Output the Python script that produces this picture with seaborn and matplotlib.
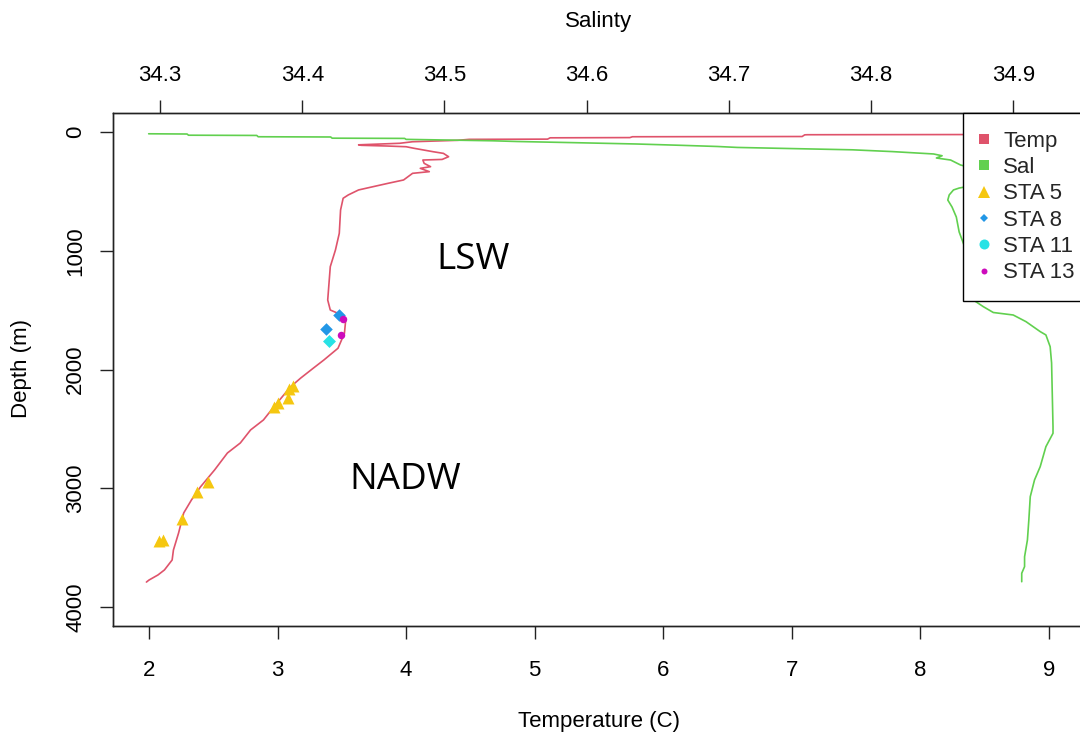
import matplotlib
matplotlib.use("Agg")
import matplotlib.pyplot as plt
from matplotlib.lines import Line2D
import seaborn as sns

# ---- CTD profile: temperature (deg C) against depth (m) ----
temp_depth = [20, 23, 24, 38, 40, 47, 49, 60, 62, 70, 82, 95, 108, 112, 118, 124,
              137, 166, 180, 208, 231, 236, 264, 292, 306, 334, 348, 404, 432, 466,
              488, 530, 558, 657, 853, 994, 1134, 1274, 1415, 1499, 1527, 1583,
              1695, 1821, 1920, 1987, 2072, 2147, 2316, 2425, 2509, 2619, 2703,
              2846, 2989, 3099, 3208, 3377, 3520, 3604, 3688, 3730, 3773, 3790]
temp_vals = [9.60, 7.12, 7.10, 7.08, 5.76, 5.74, 5.12, 5.10, 4.49, 4.40, 4.05, 3.95,
             3.63, 3.65, 3.85, 4.00, 4.06, 4.21, 4.29, 4.33, 4.28, 4.13, 4.14, 4.19,
             4.11, 4.18, 4.05, 3.98, 3.86, 3.72, 3.63, 3.55, 3.51, 3.49, 3.48, 3.45,
             3.41, 3.40, 3.39, 3.41, 3.47, 3.53, 3.52, 3.47, 3.36, 3.28, 3.18, 3.10,
             2.97, 2.89, 2.79, 2.71, 2.61, 2.51, 2.40, 2.33, 2.27, 2.23, 2.19, 2.18,
             2.12, 2.07, 2.00, 1.98]

# ---- CTD profile: salinity against depth (m) ----
sal_depth = [15, 17, 27, 29, 40, 42, 52, 54, 62, 74, 80, 90, 101, 112, 122, 130,
             140, 150, 165, 185, 200, 219, 236, 278, 330, 420, 472, 488, 530, 573,
             632, 716, 842, 1100, 1300, 1415, 1471, 1520, 1541, 1597, 1681, 1709,
             1808, 1945, 2481, 2537, 2650, 2818, 2930, 3071, 3267, 3436, 3577, 3660,
             3716, 3787]
sal_vals = [34.292, 34.319, 34.320, 34.368, 34.369, 34.420, 34.421, 34.472, 34.473,
            34.534, 34.551, 34.592, 34.635, 34.666, 34.692, 34.706, 34.746, 34.787,
            34.815, 34.844, 34.850, 34.846, 34.856, 34.863, 34.880, 34.885, 34.862,
            34.858, 34.855, 34.854, 34.857, 34.860, 34.862, 34.870, 34.868, 34.872,
            34.879, 34.886, 34.900, 34.909, 34.919, 34.923, 34.926, 34.927, 34.928,
            34.928, 34.923, 34.919, 34.915, 34.912, 34.911, 34.910, 34.908, 34.908,
            34.906, 34.906]

# ---- bottle samples at the stations (temperature, depth) ----
sta5_temp = [3.12, 3.09, 3.08, 3.00, 2.97, 2.46, 2.37, 2.26, 2.08, 2.11]
sta5_depth = [2140, 2165, 2243, 2286, 2314, 2945, 3029, 3263, 3440, 3436]
sta8_temp = [3.48, 3.38]
sta8_depth = [1541, 1662]
sta11_temp = [3.40]
sta11_depth = [1757]
sta13_temp = [3.51, 3.49]
sta13_depth = [1577, 1709]

# water masses
mass_names = ["LSW", "NADW"]
mass_temp = [4.52, 3.99]
mass_depth = [1080, 2930]

temp_ticks = [2, 3, 4, 5, 6, 7, 8, 9]
sal_ticks = [34.3, 34.4, 34.5, 34.6, 34.7, 34.8, 34.9]
depth_ticks = [0, 1000, 2000, 3000, 4000]

C_TEMP = "#DF536B"
C_SAL = "#61D04F"
C_STA5 = "#F5C710"
C_STA8 = "#2297E6"
C_STA11 = "#28E2E5"
C_STA13 = "#CD0BBC"

sns.set_theme(style="white")
plt.rcParams["font.family"] = ["Liberation Sans", "DejaVu Sans"]
plt.rcParams["axes.edgecolor"] = "#222222"
plt.rcParams["axes.linewidth"] = 1.0

FS = 16
fig = plt.figure(figsize=(10.8, 7.38), dpi=100)
ax = fig.add_axes([113 / 1080, 112 / 738, 972 / 1080, 513 / 738])

sns.lineplot(x=temp_vals, y=temp_depth, sort=False, estimator=None,
             color=C_TEMP, lw=1.2, ax=ax)
sns.scatterplot(x=sta5_temp, y=sta5_depth, marker="^", s=8.6 ** 2,
                color=C_STA5, edgecolor=C_STA5, linewidth=0, ax=ax, zorder=4)
sns.scatterplot(x=sta8_temp, y=sta8_depth, marker="D", s=6.4 ** 2,
                color=C_STA8, edgecolor=C_STA8, linewidth=0, ax=ax, zorder=4)
sns.scatterplot(x=sta11_temp, y=sta11_depth, marker="D", s=6.6 ** 2,
                color=C_STA11, edgecolor=C_STA11, linewidth=0, ax=ax, zorder=4)
sns.scatterplot(x=sta13_temp, y=sta13_depth, marker="o", s=5.4 ** 2,
                color=C_STA13, edgecolor=C_STA13, linewidth=0, ax=ax, zorder=5)

for name, t, d in zip(mass_names, mass_temp, mass_depth):
    ax.text(t, d, name, ha="center", va="center", fontsize=26.5,
            family=["Open Sans", "DejaVu Sans"], color="black")

ax.set_xlim(1.72, 9.28)
ax.set_ylim(4160, -160)
ax.set_xticks(temp_ticks)
ax.set_xticklabels([str(t) for t in temp_ticks])
ax.set_yticks(depth_ticks)
ax.set_yticklabels([str(d) for d in depth_ticks], rotation=90, va="center")
ax.tick_params(axis="both", which="major", direction="out", length=9.4,
               width=1.0, color="#222222", labelsize=FS, labelcolor="black",
               bottom=True, left=True, top=False, right=False)
ax.tick_params(axis="x", pad=15)
ax.tick_params(axis="y", pad=10)
ax.set_xlabel("Temperature (C)", fontsize=FS, color="black")
ax.xaxis.set_label_coords(0.5, (626 - 722) / 513)
ax.xaxis.label.set_va("center")
ax.set_ylabel("Depth (m)", fontsize=FS, color="black")
ax.yaxis.set_label_coords((22 - 113) / 972, 0.501)
ax.yaxis.label.set_va("center")

ax2 = ax.twiny()
sns.lineplot(x=sal_vals, y=sal_depth, sort=False, estimator=None,
             color=C_SAL, lw=1.2, ax=ax2)
ax2.set_xlim(34.2669, 34.9505)
ax2.set_xticks(sal_ticks)
ax2.set_xticklabels([f"{s:.1f}" for s in sal_ticks])
ax2.tick_params(axis="x", direction="out", length=9.4, width=1.0,
                color="#222222", labelsize=FS, labelcolor="black", pad=10,
                top=True, bottom=False, labeltop=True, labelbottom=False)
ax2.set_xlabel("Salinty", fontsize=FS, color="black")
ax2.xaxis.set_label_coords(0.5, (626 - 21) / 513)
ax2.xaxis.label.set_va("center")
ax2.set_ylabel("")

handles = [
    Line2D([], [], ls="none", marker="s", ms=7.2, color=C_TEMP, mew=0),
    Line2D([], [], ls="none", marker="s", ms=7.2, color=C_SAL, mew=0),
    Line2D([], [], ls="none", marker="^", ms=8.6, color=C_STA5, mew=0),
    Line2D([], [], ls="none", marker="D", ms=3.8, color=C_STA8, mew=0),
    Line2D([], [], ls="none", marker="o", ms=7.2, color=C_STA11, mew=0),
    Line2D([], [], ls="none", marker="o", ms=4.3, color=C_STA13, mew=0),
]
labels = ["Temp", "Sal", "STA 5", "STA 8", "STA 11", "STA 13"]
leg = ax2.legend(handles, labels, loc="upper left",
                 bbox_to_anchor=((963 - 113) / 972, 1.0), borderaxespad=0,
                 fontsize=FS, frameon=True, fancybox=False, framealpha=1,
                 borderpad=0.8, handlelength=0.3, handletextpad=0.72,
                 labelspacing=0.24)
leg.get_frame().set_edgecolor("black")
leg.get_frame().set_linewidth(1.0)
leg.set_zorder(10)

fig.savefig("out.png", dpi=100)
